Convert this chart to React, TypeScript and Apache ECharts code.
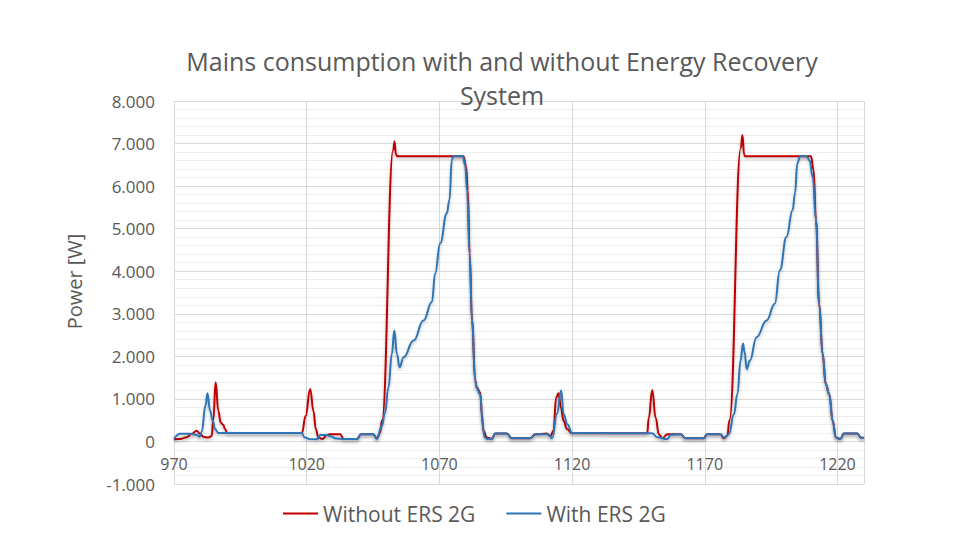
import React, { useEffect, useRef } from "react";
import * as echarts from "echarts";

const TITLE = "Mains consumption with and without Energy Recovery\nSystem";
const Y_NAME = "Power [W]";
const SERIES_NAMES = ["Without ERS 2G", "With ERS 2G"];
const X_MIN = 970;
const X_MAX = 1230;
const X_STEP = 50;
const Y_MIN = -1000;
const Y_MAX = 8000;
const Y_STEP = 1000;

// [time, power W]
const withoutErs: [number, number][] = [
  [970, 50], [972.3, 60], [974.8, 100], [976.7, 180], [978.5, 250], [979.8, 180],
  [981.1, 110], [982.9, 90], [984.2, 130], [984.8, 500], [985.7, 1390], [986.7, 720],
  [987.6, 445], [988.6, 390], [989.2, 290], [990.1, 200], [1018.2, 200], [1019.6, 600],
  [1021.3, 1235], [1022.6, 700], [1023.4, 300], [1024.4, 90], [1026, 60], [1027.6, 150],
  [1028.5, 170], [1032.6, 170], [1034, 60], [1039, 55], [1040.4, 170], [1045, 170],
  [1046.5, 75], [1047.6, 200], [1048.4, 500], [1052.6, 6850],
  [1053.1, 7050], [1053.6, 6750], [1054.2, 6700], [1079.1, 6700], [1080.1, 6450],
  [1080.7, 5900], [1081.4, 4420], [1082.3, 2840], [1083.5, 1430], [1084.1, 1270],
  [1085.4, 1150], [1086, 640], [1086.6, 250], [1087.9, 90], [1089.8, 65], [1091, 185],
  [1095.4, 185], [1097.3, 75], [1104.2, 75], [1106.1, 170], [1110.5, 185], [1111.8, 120],
  [1113, 250], [1114, 1030], [1114.9, 1130], [1115.8, 800], [1116.8, 484], [1118.1, 290],
  [1120, 190], [1148.3, 190], [1148.9, 550], [1150.2, 1210], [1151.5, 550], [1152.7, 170],
  [1154, 75], [1155.9, 170], [1160.9, 170], [1162.7, 75], [1169.6, 75], [1170.9, 170],
  [1175.9, 170], [1177.2, 75], [1178.5, 140], [1179.3, 500], [1183.6, 6900],
  [1184.2, 7200], [1184.8, 6750], [1185.2, 6700], [1210, 6700], [1211, 6384],
  [1211.9, 5204], [1213.1, 3238], [1214.4, 2058], [1215.6, 1350], [1216.9, 1114],
  [1218.2, 484], [1219.4, 90], [1221.1, 60], [1222.4, 185], [1227.5, 185], [1228.8, 90],
  [1230, 80],
];

const withErs: [number, number][] = [
  [970, 60], [972.3, 180], [976, 180], [978.3, 160], [979.6, 110], [980.4, 220],
  [981.9, 850], [982.6, 1130], [983.6, 720], [984.6, 484], [985.5, 288], [986.7, 200],
  [1018.1, 200], [1019.3, 90], [1021.4, 50], [1023.9, 50], [1025.1, 150], [1027.6, 150],
  [1029, 120], [1031, 70], [1034, 55], [1039, 55], [1040.4, 170], [1045.2, 170],
  [1046.4, 60], [1048.3, 360], [1049.5, 670], [1050.8, 1270], [1052.1, 2058], [1053, 2608],
  [1054, 2058], [1055, 1743], [1056.5, 1979], [1060.3, 2372], [1064, 2844], [1067.2, 3278],
  [1068.4, 3946], [1070.3, 4654], [1072.8, 5362], [1073.8, 5676], [1074.7, 6620],
  [1075.3, 6700], [1078.8, 6700], [1079.7, 6500], [1080.4, 5900], [1081.4, 4420],
  [1082.3, 2840], [1083.5, 1430], [1084.1, 1250], [1085.4, 1100], [1086.3, 400],
  [1087, 100], [1088, 60], [1089.8, 60], [1091, 185], [1095.4, 185], [1097.3, 75],
  [1104.2, 75], [1106.5, 170], [1111, 170], [1112.5, 75], [1114.3, 650], [1115.9, 1200],
  [1116.8, 640], [1118.3, 400], [1120, 200], [1150.2, 190], [1152.1, 100], [1155.9, 50],
  [1157.2, 160], [1160.9, 170], [1162.7, 75], [1169.6, 75], [1170.9, 170], [1176, 170],
  [1177.2, 90], [1179.1, 170], [1181, 642], [1182.3, 1114], [1183.5, 1900], [1184.4, 2300],
  [1185, 2100], [1185.8, 1704], [1187, 1900], [1189.5, 2450], [1193.3, 2844],
  [1196.4, 3238], [1198.3, 4024], [1200.8, 4810], [1203.1, 5440], [1204, 5834],
  [1204.9, 6542], [1205.9, 6700], [1208.4, 6700], [1209.5, 6600], [1210.7, 6200],
  [1211.9, 5204], [1213.1, 3238], [1214.4, 2058], [1215.6, 1350], [1216.9, 1114],
  [1218.2, 484], [1219.4, 90], [1221.1, 60], [1222.4, 185], [1227.5, 185], [1228.8, 90],
  [1230, 80],
];

const COLORS = ["#C00000", "#2E75B6"];
const TEXT_COLOR = "#595959";
const FONT = "'Open Sans', 'Noto Sans', sans-serif";

const GRID_TOP = 101;
const GRID_BOTTOM = 76;
const CHART_H = 560;

function fmtThousands(v: number): string {
  const neg = v < 0;
  const s = Math.round(Math.abs(v)).toString();
  const out = s.replace(/\B(?=(\d{3})+(?!\d))/g, ".");
  return (neg ? "-" : "") + out;
}

export default function App() {
  const ref = useRef<HTMLDivElement>(null);
  useEffect(() => {
    if (!ref.current) return;
    const chart = echarts.init(ref.current, undefined, { renderer: "svg" });
    const shift = (arr: [number, number][]) => arr.map(([x, y]) => [x - X_MIN, y]);
    const gridH = CHART_H - GRID_TOP - GRID_BOTTOM;
    // move the x axis (line + labels) up to the value 0 of the y axis
    const zeroOffset = -((0 - Y_MIN) / (Y_MAX - Y_MIN)) * gridH;
    const lineSeries = [withoutErs, withErs].map((d, i) => ({
      name: SERIES_NAMES[i],
      type: "line",
      data: shift(d),
      showSymbol: false,
      smooth: 0.45,
      smoothMonotone: "x",
      color: COLORS[i],
      lineStyle: {
        width: 2,
        color: COLORS[i],
        shadowColor: "rgba(0,0,0,0.25)",
        shadowBlur: 3,
        shadowOffsetY: 2,
      },
    }));
    chart.setOption({
      animation: false,
      backgroundColor: "#ffffff",
      textStyle: { fontFamily: FONT },
      title: {
        text: TITLE,
        left: 502,
        top: 44,
        padding: 0,
        textAlign: "center",
        textStyle: {
          fontFamily: FONT,
          fontSize: 25,
          fontWeight: "normal",
          color: TEXT_COLOR,
          lineHeight: 34,
        },
      },
      legend: {
        data: SERIES_NAMES,
        left: 283,
        top: 503,
        padding: 0,
        icon: "rect",
        itemWidth: 35,
        itemHeight: 2,
        itemGap: 31,
        textStyle: { fontFamily: FONT, fontSize: 21, color: TEXT_COLOR },
      },
      grid: { left: 174, right: 116, top: GRID_TOP, bottom: GRID_BOTTOM, containLabel: false, outerBoundsMode: "none" },
      xAxis: {
        type: "value",
        min: 0,
        max: X_MAX - X_MIN,
        interval: X_STEP,
        position: "bottom",
        offset: zeroOffset,
        axisLine: { show: true, onZero: false, lineStyle: { color: "#d9d9d9", width: 1 } },
        axisTick: { show: false },
        axisLabel: {
          formatter: (v: number) => String(v + X_MIN),
          showMaxLabel: false,
          margin: 15,
          fontSize: 16,
          color: TEXT_COLOR,
          fontFamily: FONT,
        },
        splitLine: { show: true, lineStyle: { color: "#d9d9d9", width: 1 } },
      },
      yAxis: {
        type: "value",
        min: Y_MIN,
        max: Y_MAX,
        interval: Y_STEP,
        name: Y_NAME,
        nameLocation: "middle",
        nameGap: 90,
        nameTextStyle: { fontFamily: FONT, fontSize: 20, color: TEXT_COLOR, padding: [0, 0, 0, 22] },
        axisLine: { show: false, onZero: false },
        axisTick: { show: false },
        axisLabel: {
          formatter: (v: number) => fmtThousands(v),
          margin: 19,
          fontSize: 17,
          color: TEXT_COLOR,
          fontFamily: FONT,
        },
        splitLine: { show: true, lineStyle: { color: "#d9d9d9", width: 1 } },
        minorTick: { show: false, splitNumber: 5 },
        minorSplitLine: { show: true, lineStyle: { color: "#eeeeee", width: 1 } },
      },
      series: lineSeries,
    });
    return () => chart.dispose();
  }, []);
  return <div ref={ref} style={{ width: 980, height: 560, margin: -8 }} />;
}
